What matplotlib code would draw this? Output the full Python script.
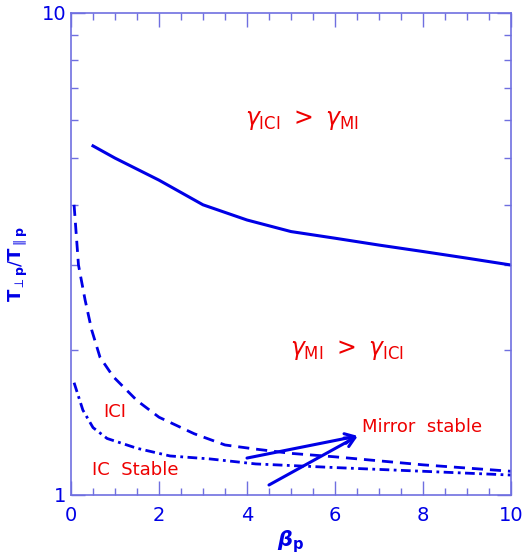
import matplotlib
matplotlib.use("Agg")
import matplotlib.pyplot as plt
import numpy as np

# curves
solid_x = [0.5, 1, 2, 3, 4, 5, 6, 7, 8, 9, 10]
solid_y = [5.3, 5.0, 4.5, 4.0, 3.72, 3.52, 3.41, 3.3, 3.2, 3.1, 3.0]

dashed_x = [0.07, 0.17, 0.32, 0.47, 0.66, 0.96, 1.5, 2.0, 2.8, 3.5, 4.2, 5, 6, 8, 10]
dashed_y = [4.0, 3.0, 2.54, 2.2, 1.93, 1.76, 1.57, 1.45, 1.34, 1.27, 1.245, 1.22, 1.20, 1.155, 1.12]

dashdot_x = [0.07, 0.27, 0.5, 0.82, 1.5, 2.25, 3.16, 4.2, 6, 8, 10]
dashdot_y = [1.71, 1.50, 1.38, 1.31, 1.25, 1.205, 1.188, 1.16, 1.14, 1.12, 1.10]

# arrows pointing at the "Mirror stable" label
arrow_tip = (6.52, 1.326)
arrow_starts = [(4.0, 1.193), (4.5, 1.049)]

x_ticks = [0, 2, 4, 6, 8, 10]
y_ticks = [1, 10]

blue = '#0000e6'
red = '#ee0000'
axis_col = '#6f6fe0'

fig = plt.figure(figsize=(5.23, 5.54), dpi=100)
ax = fig.add_axes([71/523, 1 - 495/554, 440/523, 482/554])

ax.plot(solid_x, solid_y, color=blue, lw=2.2, solid_joinstyle='round')
ax.plot(dashed_x, dashed_y, color=blue, lw=2.0, dashes=(4, 2.5))
ax.plot(dashdot_x, dashdot_y, color=blue, lw=2.0, dashes=(3.5, 1.6, 1, 1.6))

for s in arrow_starts:
    ax.annotate('', xy=arrow_tip, xytext=s,
                arrowprops=dict(arrowstyle='->,head_length=0.7,head_width=0.35',
                                color=blue, lw=2.2, shrinkA=0, shrinkB=0))

ax.set_yscale('log')
ax.set_xlim(0, 10)
ax.set_ylim(1, 10)

ax.set_xticks(x_ticks)
ax.set_xticks(np.arange(0, 10.01, 0.5), minor=True)
ax.set_yticks(y_ticks, ['1', '10'])
ax.set_yticks([2, 3, 4, 5, 6, 7, 8, 9], minor=True)
ax.yaxis.set_minor_formatter(matplotlib.ticker.NullFormatter())

ax.tick_params(which='both', direction='in', top=True, right=True,
               color=axis_col, labelcolor=blue, labelsize=14)
ax.tick_params(which='major', length=10, width=1)
ax.tick_params(which='minor', length=5, width=1)
ax.tick_params(axis='x', pad=8)
for sp in ax.spines.values():
    sp.set_color(axis_col)
    sp.set_linewidth(1.2)

ax.set_xlabel(r'$\boldsymbol{\beta}_\mathbf{p}$', color=blue, fontsize=15, labelpad=2)
ax.set_ylabel(r'$\mathbf{T}_{\perp\mathbf{p}}/\mathbf{T}_{\parallel\mathbf{p}}$',
              color=blue, fontsize=13)
ax.yaxis.set_label_coords(-0.093, 0.48)

# region labels
ax.text(3.95, 6.0, r'$\gamma_{\mathrm{ICI}}\ >\ \gamma_{\mathrm{MI}}$', color=red,
        fontsize=17, va='center')
ax.text(4.98, 2.0, r'$\gamma_{\mathrm{MI}}\ >\ \gamma_{\mathrm{ICI}}$', color=red,
        fontsize=17, va='center')
ax.text(0.73, 1.486, 'ICI', color=red, fontsize=13, va='center')
ax.text(0.48, 1.127, 'IC  Stable', color=red, fontsize=13, va='center')
ax.text(6.61, 1.384, 'Mirror  stable', color=red, fontsize=13, va='center')

fig.savefig('out.png', dpi=100)
